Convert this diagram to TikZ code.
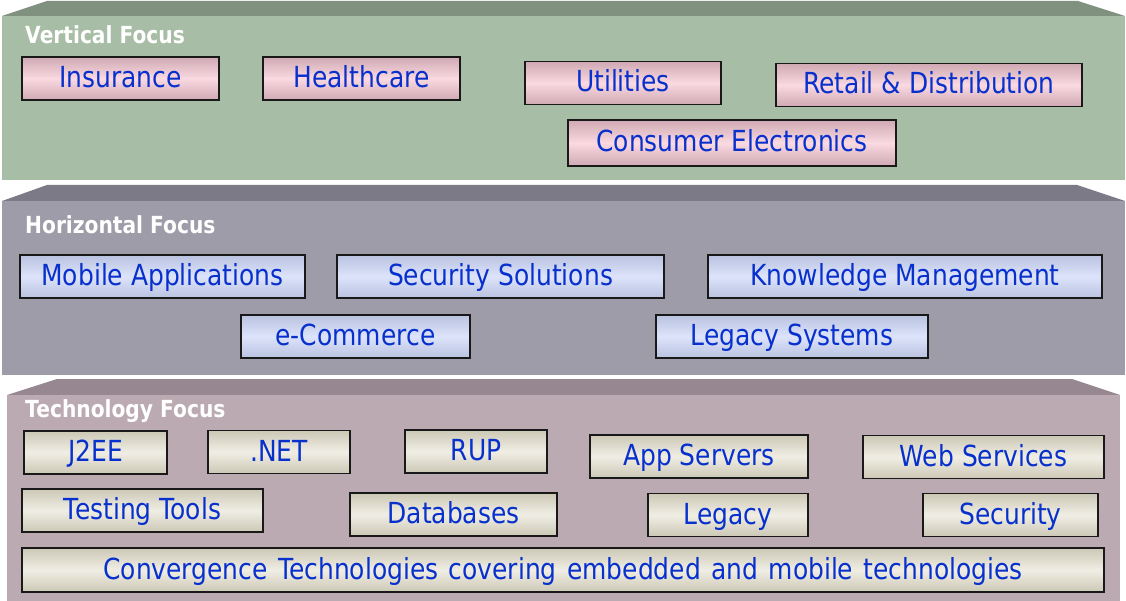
\documentclass[tikz,border=0pt]{standalone}
\usepackage{fontspec}
\setmainfont[FakeStretch=0.86]{DejaVu Sans}
\usepackage{xcolor}
\usetikzlibrary{positioning}

\definecolor{txtblue}{RGB}{8,48,204}
\definecolor{greenfront}{RGB}{167,189,165}
\definecolor{greentop}{RGB}{128,145,127}
\definecolor{grayfront}{RGB}{157,156,168}
\definecolor{graytop}{RGB}{123,122,134}
\definecolor{mauvefront}{RGB}{188,170,178}
\definecolor{mauvetop}{RGB}{151,135,144}
\definecolor{pinkedge}{RGB}{207,169,179}
\definecolor{pinkmid}{RGB}{250,217,225}
\definecolor{blueedge}{RGB}{185,194,224}
\definecolor{bluemid}{RGB}{221,227,250}
\definecolor{beigeedge}{RGB}{204,200,182}
\definecolor{beigemid}{RGB}{240,238,228}

\begin{document}
\begin{tikzpicture}[x=1pt, y=-1pt]

	\tikzset{
	itembox/.style={draw=black!90, line width=1.2pt, minimum height=43pt, inner sep=0pt,
		font=\fontsize{29}{30}\selectfont, text=txtblue, text height=24pt, text depth=6pt},
	vbox/.style={itembox, top color=pinkedge, bottom color=pinkedge, middle color=pinkmid},
	hbox/.style={itembox, top color=blueedge, bottom color=blueedge, middle color=bluemid},
	tbox/.style={itembox, top color=beigeedge, bottom color=beigeedge, middle color=beigemid},
	layertitle/.style={anchor=base west, inner sep=0pt, text=white, font=\fontsize{23.5}{25}\selectfont\bfseries}
	}

	\useasboundingbox (0,0) rectangle (1126,601);

	% Layers
	\fill[greentop] (2,16) -- (47,1) -- (1078,1) -- (1125,16) -- cycle;
	\fill[greenfront] (2,16) rectangle (1125,180);
	\fill[graytop] (2,201) -- (47,185) -- (1077,185) -- (1125,201) -- cycle;
	\fill[grayfront] (2,201) rectangle (1125,375);
	\fill[mauvetop] (7,395) -- (57,379) -- (1072,379) -- (1120,395) -- cycle;
	\fill[mauvefront] (7,395) rectangle (1120,601);

	% Titles
	\node[layertitle] (vtitle) at (25,44) {Vertical Focus};
	\node[layertitle] (htitle) at (25,234) {Horizontal Focus};
	\node[layertitle] (ttitle) at (25,417) {Technology Focus};

	% Vertical
	\node[vbox, minimum width=197pt] (insurance) at (120.5,78.5) {Insurance};
	\node[vbox, minimum width=197pt] (health) at (361.5,78.5) {Healthcare};
	\node[vbox, minimum width=196pt] (utilities) at (623,83) {Utilities};
	\node[vbox, minimum width=306pt] (retail) at (929,85) {Retail \& Distribution};
	\node[vbox, minimum width=328pt, minimum height=46pt] (consumer) at (732,143) {Consumer Electronics};

	% Horizontal
	\node[hbox, minimum width=285pt] (mobile) at (162.5,276.5) {Mobile Applications};
	\node[hbox, minimum width=327pt] (secsol) at (500.5,276.5) {Security Solutions};
	\node[hbox, minimum width=394pt] (knowledge) at (905,276.5) {Knowledge Management};
	\node[hbox, minimum width=229pt] (ecom) at (355.5,336.5) {e-Commerce};
	\node[hbox, minimum width=272pt] (legsys) at (792,336.5) {Legacy Systems};

	% Technology
	\node[tbox, minimum width=143pt] (j2ee) at (95.5,452.5) {J2EE};
	\node[tbox, minimum width=142pt] (dotnet) at (279,452) {.NET};
	\node[tbox, minimum width=142pt] (rup) at (476,451.5) {RUP};
	\node[tbox, minimum width=218pt] (appsrv) at (699,456.5) {App Servers};
	\node[tbox, minimum width=241pt] (websrv) at (983.5,457) {Web Services};
	\node[tbox, minimum width=241pt] (testing) at (142.5,510.5) {Testing Tools};
	\node[tbox, minimum width=207pt] (databases) at (453.5,514.5) {Databases};
	\node[tbox, minimum width=160pt] (legacy) at (728,515) {Legacy};
	\node[tbox, minimum width=175pt] (security) at (1010.5,515) {Security};
	\node[tbox, minimum width=1082pt, minimum height=44pt] (converge) at (563,570) {\spaceskip=0.36em\relax Convergence Technologies covering embedded and mobile technologies};

\end{tikzpicture}
\end{document}
